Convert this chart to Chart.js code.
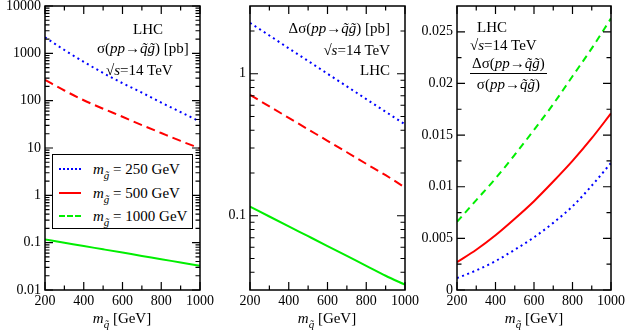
<!DOCTYPE html>
<html>
<head>
<meta charset="utf-8">
<script src="https://cdn.jsdelivr.net/npm/chart.js@4/dist/chart.umd.min.js"></script>
<style>
  html, body { margin: 0; padding: 0; background: #fff; }
  #wrap { position: relative; width: 627px; height: 330px; overflow: hidden; font-family: "Liberation Serif", "DejaVu Serif", serif; color: #000; }
  canvas { position: absolute; left: 0; top: 0; }
  .t { position: absolute; white-space: nowrap; font-size: 15px; line-height: 16px; z-index: 5; }
  .sub { font-size: 11px; position: relative; top: 5px; font-style: italic; }
  .leg { position: absolute; left: 52px; top: 154px; width: 139px; height: 73px; border: 1px solid #000; background: #fff; z-index: 4; }
  .row { position: absolute; left: 0; height: 16px; width: 139px; }
  .sample { position: absolute; left: 6px; top: 7px; width: 22px; height: 0; }
  .lab { position: absolute; left: 40px; top: 0; font-size: 15px; line-height: 16px; white-space: nowrap; }
</style>
</head>
<body>
<div id="wrap">
  <canvas id="c1" width="627" height="330"></canvas>
  <canvas id="c2" width="627" height="330"></canvas>
  <canvas id="c3" width="627" height="330"></canvas>

  <!-- panel 1 annotations -->
  <div class="t" style="left:133px; top:21px;">LHC</div>
  <div class="t" style="left:97px; top:40px;">σ(<i>pp</i>→<i>q̃g̃</i>) [pb]</div>
  <div class="t" style="left:106px; top:62px;">√<i>s</i>=14 TeV</div>

  <!-- legend -->
  <div class="leg">
    <div class="row" style="top:6px;"><div class="sample" style="border-top:2px dotted #0000ff;"></div><div class="lab"><i>m</i><span class="sub">g̃</span> = 250 GeV</div></div>
    <div class="row" style="top:30px;"><div class="sample" style="border-top:2px solid #ff0000;"></div><div class="lab"><i>m</i><span class="sub">g̃</span> = 500 GeV</div></div>
    <div class="row" style="top:53px;"><div class="sample" style="border-top:2px dashed #00ee00;"></div><div class="lab"><i>m</i><span class="sub">g̃</span> = 1000 GeV</div></div>
  </div>

  <!-- panel 2 annotations -->
  <div class="t" style="right:237px; top:20px;">Δσ(<i>pp</i>→<i>q̃g̃</i>) [pb]</div>
  <div class="t" style="right:237px; top:42px;">√<i>s</i>=14 TeV</div>
  <div class="t" style="right:237px; top:62px;">LHC</div>

  <!-- panel 3 annotations -->
  <div class="t" style="left:477px; top:19px;">LHC</div>
  <div class="t" style="left:470px; top:37px;">√<i>s</i>=14 TeV</div>
  <div class="t" style="left:470px; top:55px; text-align:center;">
    <div style="padding:0 2px;">Δσ(<i>pp</i>→<i>q̃g̃</i>)</div>
    <div style="border-top:1px solid #000; margin-top:2px; padding-top:2px;">σ(<i>pp</i>→<i>q̃g̃</i>)</div>
  </div>

  <!-- x axis titles -->
  <div class="t" style="left:122px; top:310px; transform:translateX(-50%);"><i>m</i><span class="sub">q̃</span> [GeV]</div>
  <div class="t" style="left:327px; top:310px; transform:translateX(-50%);"><i>m</i><span class="sub">q̃</span> [GeV]</div>
  <div class="t" style="left:534px; top:310px; transform:translateX(-50%);"><i>m</i><span class="sub">q̃</span> [GeV]</div>
</div>

<script>
// ---- data ----
const squarkMass = [200, 300, 400, 500, 600, 700, 800, 900, 1000];

// panel 1: sigma(pp -> squark gluino) [pb]
const sigma250  = [2180, 1175, 660, 385, 234, 148, 91, 57.5, 36];
const sigma500  = [274, 164, 102, 67.6, 45.7, 30.5, 20.7, 14.1, 9.8];
const sigma1000 = [0.117, 0.0997, 0.0849, 0.0724, 0.0617, 0.0525, 0.0448, 0.0381, 0.0325];

// panel 2: delta sigma [pb]
const dsigma250  = [2.28, 1.86, 1.51, 1.23, 1.0, 0.815, 0.663, 0.54, 0.44];
const dsigma500  = [0.71, 0.589, 0.489, 0.406, 0.337, 0.280, 0.232, 0.193, 0.158];
const dsigma1000 = [0.116, 0.0988, 0.0842, 0.0718, 0.0612, 0.0521, 0.0444, 0.0378, 0.0327];

// panel 3: ratio
const ratio250  = [0.00115, 0.0019, 0.0028, 0.0039, 0.0051, 0.0065, 0.0081, 0.0101, 0.0123];
const ratio500  = [0.0027, 0.0039, 0.0053, 0.0069, 0.0086, 0.0105, 0.0125, 0.0147, 0.0171];
const ratio1000 = [0.0066, 0.0087, 0.0108, 0.0131, 0.0155, 0.0180, 0.0207, 0.0234, 0.0263];

// ticks
const xTicks = [200, 400, 600, 800, 1000];
const xMinorTicks = [300, 500, 700, 900];
const yTicks1 = [0.01, 0.1, 1, 10, 100, 1000, 10000];
const yTickLabels1 = ["0.01", "0.1", "1", "10", "100", "1000", "10000"];
const yTicks2 = [0.1, 1];
const yTickLabels2 = ["0.1", "1"];
const yTicks3 = [0, 0.005, 0.01, 0.015, 0.02, 0.025];
const yTickLabels3 = ["0", "0.005", "0.01", "0.015", "0.02", "0.025"];
const yMinorTicks3 = [0.0025, 0.0075, 0.0125, 0.0175, 0.0225];

const BLUE = '#0000ff', RED = '#ff0000', GREEN = '#00ee00';
const FONT = 'Liberation Serif';
Chart.defaults.font.family = FONT;

function pts(arr) { return squarkMass.map((x, i) => ({ x: x, y: arr[i] })); }

function logMinors(min, max, majors) {
  const out = [];
  for (let d = Math.floor(Math.log10(min)); d <= Math.ceil(Math.log10(max)); d++) {
    for (let k = 1; k <= 9; k++) {
      const v = k * Math.pow(10, d);
      if (v > min * 1.0001 && v < max * 0.9999 && !majors.some(m => Math.abs(m - v) / v < 1e-6)) out.push(v);
    }
  }
  return out;
}

const framePlugin = {
  id: 'frame',
  afterDatasetsDraw(chart, args, opts) {
    const ctx = chart.ctx, a = chart.chartArea;
    const xs = chart.scales.x, ys = chart.scales.y;
    ctx.save();
    ctx.strokeStyle = '#000';
    ctx.lineWidth = 1.2;
    ctx.beginPath();
    const tick = (x1, y1, x2, y2) => { ctx.moveTo(x1, y1); ctx.lineTo(x2, y2); };
    const MAJ = 8, MIN = 4.5;
    xTicks.forEach(v => { const p = xs.getPixelForValue(v); tick(p, a.bottom, p, a.bottom - MAJ); tick(p, a.top, p, a.top + MAJ); });
    xMinorTicks.forEach(v => { const p = xs.getPixelForValue(v); tick(p, a.bottom, p, a.bottom - MIN); tick(p, a.top, p, a.top + MIN); });
    opts.yMajor.forEach(v => { const p = ys.getPixelForValue(v); tick(a.left, p, a.left + MAJ, p); tick(a.right, p, a.right - MAJ, p); });
    opts.yMinor.forEach(v => { const p = ys.getPixelForValue(v); tick(a.left, p, a.left + MIN, p); tick(a.right, p, a.right - MIN, p); });
    ctx.stroke();
    ctx.lineWidth = 1.5;
    ctx.strokeRect(a.left, a.top, a.right - a.left, a.bottom - a.top);
    ctx.restore();
  }
};

function makePanel(id, cfg) {
  const W = 627, H = 330;
  new Chart(document.getElementById(id), {
    type: 'line',
    data: { datasets: cfg.datasets },
    plugins: [framePlugin],
    options: {
      responsive: false,
      animation: false,
      devicePixelRatio: 1,
      layout: { padding: { left: cfg.left - cfg.yWidth, right: W - cfg.right, top: 6, bottom: 0 } },
      plugins: {
        legend: { display: false },
        tooltip: { enabled: false },
        frame: { yMajor: cfg.yTicks, yMinor: cfg.yMinor }
      },
      elements: { point: { radius: 0 }, line: { tension: 0.35, cubicInterpolationMode: 'monotone' } },
      scales: {
        x: {
          type: 'linear', min: 200, max: 1000, bounds: 'data',
          grid: { display: false, drawTicks: false },
          border: { display: false },
          afterBuildTicks: s => { s.ticks = xTicks.map(v => ({ value: v })); },
          afterFit: s => { s.height = H - 290; s.paddingLeft = 0; s.paddingRight = 0; },
          ticks: { autoSkip: false, maxRotation: 0, padding: 3, color: '#000', font: { family: FONT, size: 14 }, callback: v => String(v) }
        },
        y: {
          type: cfg.yType, min: cfg.yMin, max: cfg.yMax, bounds: 'data',
          grid: { display: false, drawTicks: false },
          border: { display: false },
          afterBuildTicks: s => { s.ticks = cfg.yTicks.map(v => ({ value: v })); },
          afterFit: s => { s.width = cfg.yWidth; s.paddingTop = 0; s.paddingBottom = 0; },
          ticks: { autoSkip: false, padding: 4, color: '#000', font: { family: FONT, size: 14 },
                   callback: (v, i) => cfg.yLabels[i] }
        }
      }
    }
  });
}

makePanel('c1', {
  left: 45, right: 200, yWidth: 45,
  yType: 'logarithmic', yMin: 0.01, yMax: 10000,
  yTicks: yTicks1, yLabels: yTickLabels1, yMinor: logMinors(0.01, 10000, yTicks1),
  datasets: [
    { label: 'm_g = 250 GeV', data: pts(sigma250), borderColor: BLUE, borderWidth: 2, borderDash: [2, 3.5] },
    { label: 'm_g = 500 GeV', data: pts(sigma500), borderColor: RED, borderWidth: 2, borderDash: [9, 5] },
    { label: 'm_g = 1000 GeV', data: pts(sigma1000), borderColor: GREEN, borderWidth: 2 }
  ]
});

makePanel('c2', {
  left: 250, right: 405, yWidth: 45,
  yType: 'logarithmic', yMin: 0.03, yMax: 3,
  yTicks: yTicks2, yLabels: yTickLabels2, yMinor: logMinors(0.03, 3, yTicks2),
  datasets: [
    { label: 'm_g = 250 GeV', data: pts(dsigma250), borderColor: BLUE, borderWidth: 2, borderDash: [2, 3.5] },
    { label: 'm_g = 500 GeV', data: pts(dsigma500), borderColor: RED, borderWidth: 2, borderDash: [9, 5] },
    { label: 'm_g = 1000 GeV', data: pts(dsigma1000), borderColor: GREEN, borderWidth: 2 }
  ]
});

makePanel('c3', {
  left: 457, right: 611, yWidth: 45,
  yType: 'linear', yMin: 0, yMax: 0.0275,
  yTicks: yTicks3, yLabels: yTickLabels3, yMinor: yMinorTicks3,
  datasets: [
    { label: 'm_g = 250 GeV', data: pts(ratio250), borderColor: BLUE, borderWidth: 2, borderDash: [2, 3.5] },
    { label: 'm_g = 500 GeV', data: pts(ratio500), borderColor: RED, borderWidth: 2 },
    { label: 'm_g = 1000 GeV', data: pts(ratio1000), borderColor: GREEN, borderWidth: 2, borderDash: [7, 5] }
  ]
});
</script>
</body>
</html>
